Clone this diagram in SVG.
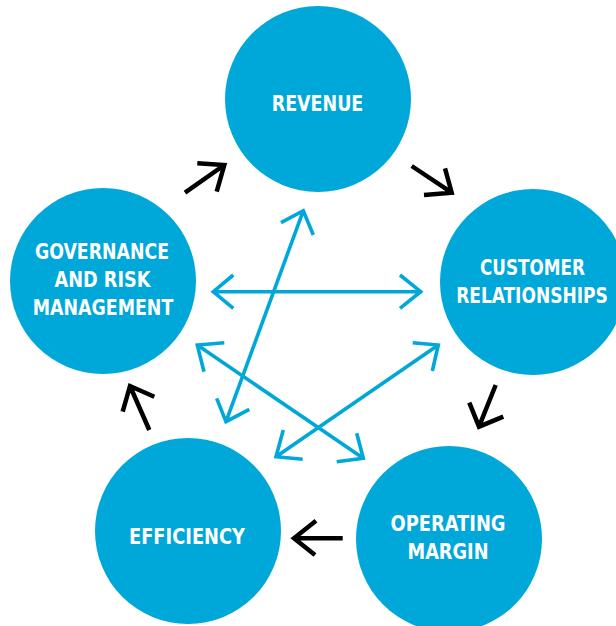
<svg xmlns="http://www.w3.org/2000/svg" width="616" height="626" viewBox="0 0 616 626">
<style>
.node circle{fill:#00A7D9}
.node text{fill:#fff;font-family:"Liberation Sans Narrow","DejaVu Sans Condensed","Liberation Sans",sans-serif;font-weight:bold;font-size:22px;text-anchor:middle}
.cyc{fill:none;stroke:#000;stroke-width:4.5;stroke-linecap:butt;stroke-linejoin:miter}
.lnk{fill:none;stroke:#00A7D9;stroke-width:3.6;stroke-linecap:butt;stroke-linejoin:miter}
</style>
<rect width="616" height="626" fill="#fff"/>
<g id="revenue" class="node"><circle cx="318" cy="99" r="93"/><text x="317.5" y="110.7" textLength="91.6" lengthAdjust="spacingAndGlyphs">REVENUE</text></g>
<g id="customer" class="node"><circle cx="533" cy="282" r="93"/><text x="532.5" y="275" textLength="105" lengthAdjust="spacingAndGlyphs">CUSTOMER</text><text x="532" y="302.7" textLength="151.7" lengthAdjust="spacingAndGlyphs">RELATIONSHIPS</text></g>
<g id="operating" class="node"><circle cx="449" cy="539" r="93"/><text x="448" y="531" textLength="115" lengthAdjust="spacingAndGlyphs">OPERATING</text><text x="448" y="559" textLength="81" lengthAdjust="spacingAndGlyphs">MARGIN</text></g>
<g id="efficiency" class="node"><circle cx="188" cy="531" r="93"/><text x="187" y="544" textLength="116" lengthAdjust="spacingAndGlyphs">EFFICIENCY</text></g>
<g id="governance" class="node"><circle cx="103" cy="281" r="93"/><text x="102" y="258.7" textLength="134" lengthAdjust="spacingAndGlyphs">GOVERNANCE</text><text x="102.5" y="286.5" textLength="96" lengthAdjust="spacingAndGlyphs">AND RISK</text><text x="103" y="315" textLength="140.6" lengthAdjust="spacingAndGlyphs">MANAGEMENT</text></g>
<g id="connectors">
<path class="cyc" d="M185,192.7 L224.3,165 M197.3,163.3 L224.3,165 L216.7,191.7"/>
<path class="cyc" d="M411.7,166 L451.7,192.7 M445,168.3 L451.7,192.7 L424,195"/>
<path class="cyc" d="M495.7,385 L479,426.7 M469.3,402.7 L479,426.7 L503.3,416.7"/>
<path class="cyc" d="M342.7,538.3 L294,538.3 M316,520.7 L294,538.3 L315,555"/>
<path class="cyc" d="M149.3,430 L130,386 M122.7,411.7 L130,386 L154.3,396.7"/>
<path class="lnk" d="M213.3,291.7 L420.7,291.7 M233.3,275 L213.3,291.7 L233.3,308.3 M400,275 L420.7,291.7 L400,308.3"/>
<path class="lnk" d="M303.3,210.7 L226,421.7 M281,222.7 L303.3,210.7 L313.3,235 M216.7,398.3 L226,421.7 L249.3,409.3"/>
<path class="lnk" d="M197.3,345 L363.3,458.3 M224.3,342.7 L197.3,345 L204,371.7 M356.7,433.3 L363.3,458.3 L336.7,461.7"/>
<path class="lnk" d="M438.3,345 L276,456.7 M412.7,342.7 L438.3,345 L432.3,371 M283.3,430 L276,456.7 L302.7,459.3"/>
</g>
</svg>
